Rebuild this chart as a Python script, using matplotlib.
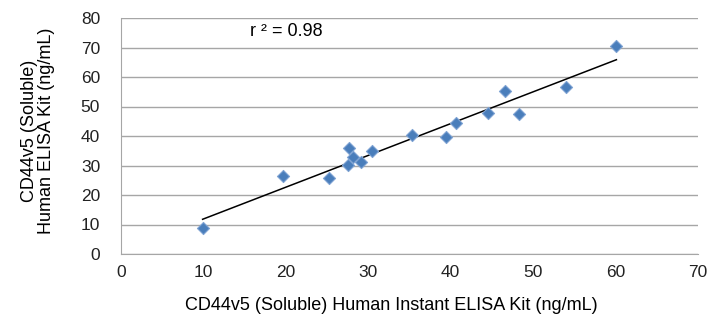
import numpy as np
import matplotlib
matplotlib.use("Agg")
import matplotlib.pyplot as plt

plt.rcParams['font.family'] = ['Liberation Sans', 'DejaVu Sans']

# values
instant_kit = [9.9, 19.7, 25.2, 27.7, 27.5, 28.1, 29.1, 30.4, 35.3, 39.4,
               40.6, 44.5, 46.6, 48.3, 54.0, 60.1]
elisa_kit = [8.7, 26.4, 25.7, 36.0, 30.2, 32.8, 31.3, 35.0, 40.3, 39.8,
             44.3, 47.7, 55.3, 47.4, 56.5, 70.5]
x_ticks = [0, 10, 20, 30, 40, 50, 60, 70]
y_ticks = [0, 10, 20, 30, 40, 50, 60, 70, 80]
r2_label = "r \u00b2 = 0.98"

x = np.array(instant_kit)
y = np.array(elisa_kit)
slope, intercept = np.polyfit(x, y, 1)
fit_x = np.array([x.min(), x.max()])

fig = plt.figure(figsize=(7.09, 3.28), dpi=100)
ax = fig.add_axes([121 / 709, 1 - 254 / 328, (698 - 121) / 709, (254 - 18) / 328])

ax.set_xlim(0, 70)
ax.set_ylim(0, 80)
ax.set_xticks(x_ticks)
ax.set_yticks(y_ticks)
ax.yaxis.grid(True, color='#a6a6a6', linewidth=1)
ax.set_axisbelow(True)
for side in ['top', 'right']:
    ax.spines[side].set_visible(False)
ax.spines['left'].set_color('#a6a6a6')
ax.spines['bottom'].set_color('#a6a6a6')
ax.tick_params(length=0, labelsize=12.5, colors='#222222', pad=8)
ax.tick_params(axis='y', pad=15)

ax.scatter(x, y, marker='D', s=38, color='#4a7ebb', edgecolor='#7fa3d3',
           linewidth=0.8, zorder=3)
ax.plot(fit_x, slope * fit_x + intercept, color='black', linewidth=1.1, zorder=2)

ax.text(15.6, 75.5, r2_label, fontsize=13, ha='left', va='center')

fig.text(391 / 709, 1 - 305 / 328,
         "CD44v5 (Soluble) Human Instant ELISA Kit (ng/mL)",
         fontsize=13, ha='center', va='center')
fig.text(38 / 709, 1 - 131 / 328,
         "CD44v5 (Soluble)\nHuman ELISA Kit (ng/mL)",
         fontsize=13, ha='center', va='center', rotation=90,
         linespacing=1.05)

fig.savefig("out.png", dpi=100)
